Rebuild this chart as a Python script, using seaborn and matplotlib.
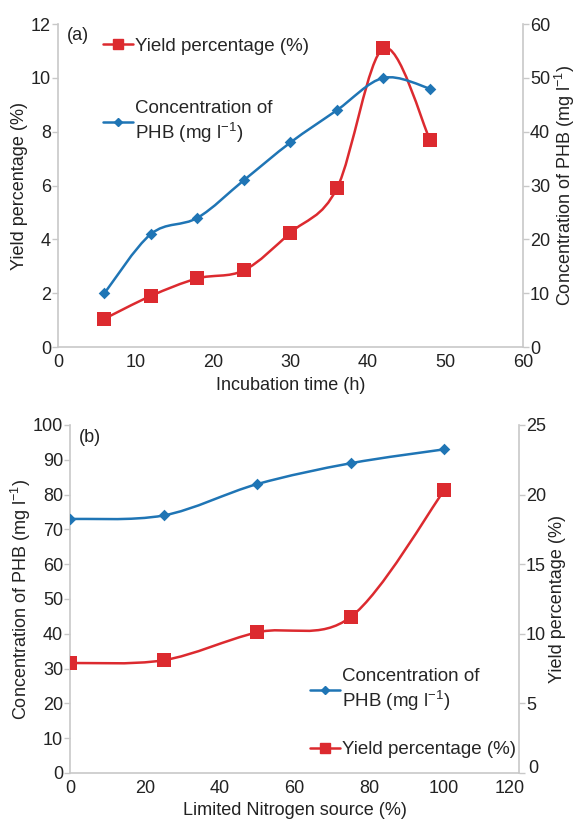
import numpy as np
import pandas as pd
import seaborn as sns
import matplotlib.pyplot as plt
from matplotlib.path import Path
from matplotlib.patches import PathPatch
from matplotlib.lines import Line2D
from matplotlib.transforms import ScaledTranslation

# panel (a): incubation time
time_h = [6, 12, 18, 24, 30, 36, 42, 48]
yield_a = [1.05, 1.9, 2.55, 2.85, 4.25, 5.9, 11.1, 7.7]
conc_a = [10, 21, 24, 31, 38, 44, 50, 48]

# panel (b): limited nitrogen source
nitrogen = [0, 25, 50, 75, 100]
conc_b = [73, 74, 83, 89, 93]
yield_b = [7.9, 8.1, 10.1, 11.2, 20.3]

RED = '#dc2a2f'
BLUE = '#1f75b5'
GRID = '#c8c8c8'
TXT = '#222222'
PHB_LABEL = r'Concentration of PHB (mg l$^{\mathregular{-1}}$)'
PHB_LEG = 'Concentration of\n' + r'PHB (mg l$^{\mathregular{-1}}$)'

sns.set_style('white')
plt.rcParams['font.family'] = ['Liberation Sans Narrow', 'Liberation Sans', 'DejaVu Sans']
plt.rcParams['mathtext.fontset'] = 'custom'
plt.rcParams['mathtext.rm'] = 'Liberation Sans'
plt.rcParams['font.size'] = 12.5


def smooth(ax, x, y, color):
    # excel-like smoothed line: cubic bezier through the data points
    pts = np.column_stack([x, y]).astype(float)
    n = len(pts)
    verts = [pts[0]]
    codes = [Path.MOVETO]
    for i in range(n - 1):
        p0 = pts[i - 1] if i > 0 else pts[i]
        p3 = pts[i + 2] if i + 2 < n else pts[i + 1]
        c1 = pts[i] + (pts[i + 1] - p0) / 6
        c2 = pts[i + 1] - (p3 - pts[i]) / 6
        verts += [c1, c2, pts[i + 1]]
        codes += [Path.CURVE4] * 3
    ax.add_patch(PathPatch(Path(verts, codes), fc='none', ec=color, lw=1.8, zorder=2))


def style(ax, ax2):
    for a in (ax, ax2):
        for s in a.spines.values():
            s.set_visible(False)
        a.tick_params(colors=GRID, labelcolor=TXT, length=4, width=1, labelsize=13, pad=1)
    ax.spines['left'].set_visible(True)
    ax.spines['bottom'].set_visible(True)
    ax2.spines['right'].set_visible(True)
    for s in ('left', 'bottom'):
        ax.spines[s].set_color(GRID)
        ax.spines[s].set_linewidth(1.2)
    ax2.spines['right'].set_color(GRID)
    ax2.spines['right'].set_linewidth(1.2)


def nudge(label, dx, dy):
    label.set_transform(label.get_transform() + ScaledTranslation(dx / 100, dy / 100, fig.dpi_scale_trans))


fig = plt.figure(figsize=(5.78, 8.31), dpi=100)

# ---- panel (a)
ax = fig.add_axes([0.1003, 0.5824, 0.8045, 0.3887])
ax2 = ax.twinx()
smooth(ax, time_h, yield_a, RED)
sns.scatterplot(x=time_h, y=yield_a, ax=ax, marker='s', s=95, color=RED, edgecolor=RED, linewidth=0, zorder=3)
smooth(ax2, time_h, conc_a, BLUE)
sns.scatterplot(x=time_h, y=conc_a, ax=ax2, marker='D', s=35, color=BLUE, edgecolor=BLUE, linewidth=0, zorder=3)
ax.set_xlim(0, 60)
ax.set_ylim(0, 12)
ax2.set_ylim(0, 60)
ax.set_xticks(range(0, 61, 10))
ax.set_yticks(range(0, 13, 2))
ax2.set_yticks(range(0, 61, 10))
style(ax, ax2)
ax.set_xlabel('Incubation time (h)', fontsize=13, color=TXT, labelpad=4)
ax.set_ylabel('Yield percentage (%)', fontsize=13, color=TXT, labelpad=2)
ax2.set_ylabel(PHB_LABEL, fontsize=13, color=TXT, labelpad=2)
ax.text(0.02, 0.965, '(a)', transform=ax.transAxes, fontsize=13, color=TXT, va='center')
h_a = [Line2D([], [], color=RED, marker='s', ms=7, lw=1.8),
       Line2D([], [], color=BLUE, marker='D', ms=4, lw=1.8)]
ax.legend(h_a, ['Yield percentage (%)', PHB_LEG], loc='upper left', bbox_to_anchor=(0.097, 0.958),
          frameon=False, borderpad=0, borderaxespad=0, handlelength=1.6, handletextpad=0.1,
          labelspacing=2.4, fontsize=13.5)

# ---- panel (b)
bx = fig.add_axes([0.1211, 0.0698, 0.7768, 0.4188])
bx2 = bx.twinx()
smooth(bx, nitrogen, conc_b, BLUE)
sns.scatterplot(x=nitrogen, y=conc_b, ax=bx, marker='D', s=35, color=BLUE, edgecolor=BLUE, linewidth=0, zorder=3)
smooth(bx2, nitrogen, yield_b, RED)
sns.scatterplot(x=nitrogen, y=yield_b, ax=bx2, marker='s', s=95, color=RED, edgecolor=RED, linewidth=0, zorder=3)
bx.set_xlim(0, 120)
bx.set_ylim(0, 100)
bx2.set_ylim(0, 25)
bx.set_xticks(range(0, 121, 20))
bx.set_yticks(range(0, 101, 10))
bx2.set_yticks(range(0, 26, 5))
style(bx, bx2)
bx.set_xlabel('Limited Nitrogen source (%)', fontsize=13, color=TXT, labelpad=4)
bx.set_ylabel(PHB_LABEL, fontsize=13, color=TXT, labelpad=0)
bx2.set_ylabel('Yield percentage (%)', fontsize=13, color=TXT, labelpad=2)
bx.text(0.02, 0.965, '(b)', transform=bx.transAxes, fontsize=13, color=TXT, va='center')
h_b = [Line2D([], [], color=BLUE, marker='D', ms=4, lw=1.8),
       Line2D([], [], color=RED, marker='s', ms=7, lw=1.8)]
bx.legend(h_b, [PHB_LEG, 'Yield percentage (%)'], loc='lower left', bbox_to_anchor=(0.535, 0.042),
          frameon=False, borderpad=0, borderaxespad=0, handlelength=1.6, handletextpad=0.1,
          labelspacing=1.5, fontsize=13.5)

# the excel layout pushes the corner labels apart
nudge(bx.get_xticklabels()[-1], -9, 0)
nudge(bx2.get_yticklabels()[0], 2, 6)

fig.savefig('out.png', dpi=100)
